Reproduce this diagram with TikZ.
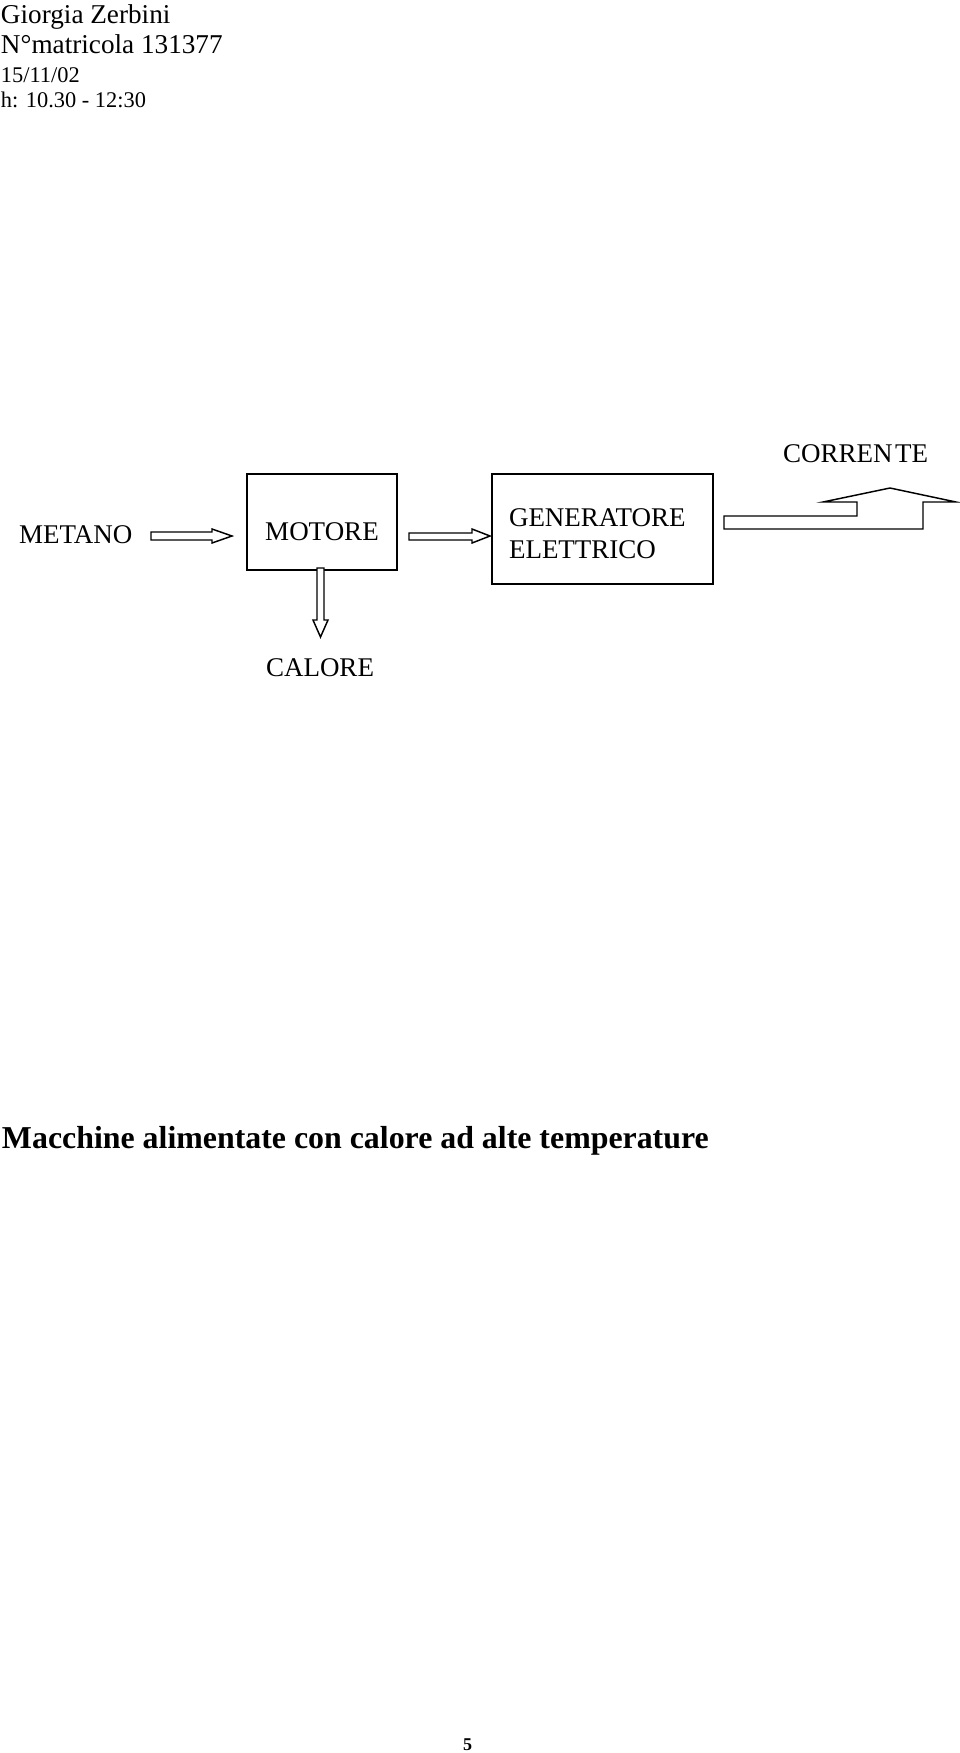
\documentclass[tikz,border=0pt]{standalone}
\usepackage{fontspec}
\setmainfont{Liberation Serif}
\tikzset{
  every node/.style={inner sep=0pt, outer sep=0pt},
  head/.style={font=\fontsize{20.4pt}{22pt}\selectfont, anchor=base west},
  small/.style={font=\fontsize{16.8pt}{18pt}\selectfont, anchor=base west},
  lbl/.style={font=\fontsize{20.25pt}{22pt}\selectfont},
  blk/.style={draw, line width=1.1pt},
  barrow/.style={draw, line width=1.1pt, line join=miter},
  title/.style={font=\bfseries\fontsize{23.9pt}{26pt}\selectfont, anchor=base west},
  pagenum/.style={font=\bfseries\fontsize{13.5pt}{15pt}\selectfont, anchor=base west}
}
\begin{document}
\begin{tikzpicture}[x=0.75pt, y=-0.75pt]
\useasboundingbox (0,0) rectangle (960,1753);

% header
\node[head] (name) at (1,23) {Giorgia Zerbini};
\node[head] (matr) at (1,53) {N°matricola 131377};
\node[small] (date) at (1,82) {15/11/02};
\node[small] (hour) at (1,107) {h: 10.30 - 12:30};

% labels
\node[lbl, anchor=base west] (metano) at (19,543) {METANO};
\node[lbl, anchor=base west] (corrente) at (783,462) {CORREN\kern2pt TE};
\node[lbl, anchor=base] (calore) at (320,676) {CALORE};

% boxes
\node[blk, anchor=north west, minimum width=112.5pt, minimum height=72pt] (motore) at (247,474) {};
\node[lbl, anchor=base] (motoretxt) at (322,540) {MOTORE};
\node[blk, anchor=north west, minimum width=165.75pt, minimum height=82.5pt] (gen) at (492,474) {};
\node[lbl, anchor=base west] (gentxt1) at (509,526) {GENERATORE};
\node[lbl, anchor=base west] (gentxt2) at (509,558) {ELETTRICO};

% block arrows
\draw[barrow] (151,532) -- (212,532) -- (212,529) -- (232,536) -- (212,543) -- (212,540) -- (151,540) -- cycle;
\draw[barrow] (409,533) -- (472,533) -- (472,529) -- (490,536) -- (472,543) -- (472,540) -- (409,540) -- cycle;
\draw[barrow, fill=white] (317,568) -- (317,620) -- (313,620) -- (320.5,637) -- (328,620) -- (324,620) -- (324,568) -- cycle;
\draw[barrow] (724,516) -- (857,516) -- (857,502) -- (823,502) -- (890,488) -- (956,502) -- (923,502) -- (923,529) -- (724,529) -- cycle;

% title
\node[title] (titolo) at (2,1148) {Macchine alimentate con calore ad alte temperature};
\node[pagenum] (pnum) at (463,1750) {5};
\end{tikzpicture}
\end{document}
